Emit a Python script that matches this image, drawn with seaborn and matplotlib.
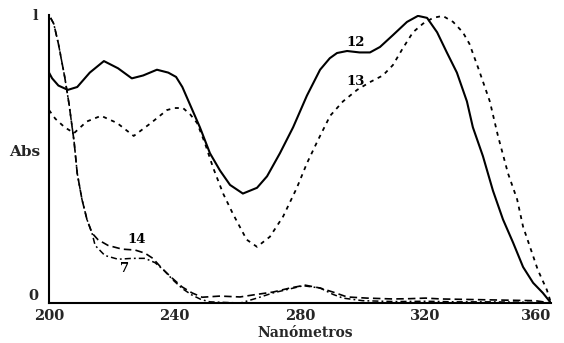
import matplotlib
matplotlib.use("Agg")
import matplotlib.pyplot as plt
import seaborn as sns
import pandas as pd
from matplotlib.ticker import MultipleLocator

# ---- data ----
x12 = [200, 201, 203, 206, 209, 213, 217.5, 222, 226.4, 230, 234.4, 238, 240.5, 242.5, 244.9,
       248.1, 251.3, 254.5, 257.7, 261.8, 266.3, 269.5, 273.6, 277.8, 282.2, 286.4, 289.5,
       291.8, 295, 299, 302.3, 305.5, 309.6, 314.1, 317.6, 320.5, 323.7, 326.8, 330, 333.2,
       335.1, 338.3, 341.5, 344.7, 347.9, 351.1, 354.3, 357.4, 360]
y12 = [0.80, 0.78, 0.755, 0.74, 0.75, 0.80, 0.84, 0.815, 0.78, 0.79, 0.81, 0.80, 0.785, 0.75, 0.69,
       0.61, 0.52, 0.46, 0.41, 0.38, 0.40, 0.44, 0.52, 0.61, 0.72, 0.81, 0.85,
       0.868, 0.875, 0.87, 0.87, 0.889, 0.93, 0.976, 0.997, 0.99, 0.94, 0.87, 0.80, 0.70,
       0.61, 0.51, 0.39, 0.29, 0.21, 0.125, 0.07, 0.035, 0.0]

x13 = [200, 202, 205, 208, 212, 216.6, 221.7, 227, 232.5, 237.6, 240, 242.7, 245, 247.2,
       249.7, 252.3, 255.5, 258.6, 263, 266.3, 270.4, 274.6, 279, 282.2, 285.7, 289.6, 293.7,
       298.2, 302.3, 306.4, 309.6, 312.8, 316, 319.2, 322.4, 325.5, 328.8, 331.9, 334, 337,
       340.5, 343.1, 346.3, 349.2, 351.1, 353.3, 355.8, 358.7, 360]
y13 = [0.67, 0.64, 0.61, 0.59, 0.63, 0.65, 0.625, 0.58, 0.625, 0.67, 0.677, 0.677, 0.655, 0.625,
       0.555, 0.47, 0.38, 0.31, 0.22, 0.195, 0.23, 0.30, 0.40, 0.485, 0.565, 0.65, 0.70,
       0.74, 0.767, 0.79, 0.826, 0.885, 0.94, 0.97, 0.99, 0.997, 0.976, 0.94, 0.90, 0.81,
       0.70, 0.58, 0.45, 0.36, 0.265, 0.195, 0.115, 0.045, 0.0]

x14 = [200.5, 201.5, 203, 205, 206.4, 208, 209, 210.5, 212.1, 213.7, 215.6, 218.8, 223.3,
       227.4, 230.6, 233.1, 236, 239.2, 242.4, 245.6, 248.8, 254.5, 260.9, 266.3, 271.4,
       276.8, 281.6, 286.4, 290.5, 295, 301.3, 309.6, 315, 320, 325, 335, 345, 355, 360]
y14 = [0.99, 0.97, 0.90, 0.785, 0.69, 0.56, 0.45, 0.36, 0.29, 0.243, 0.22, 0.20, 0.187,
       0.184, 0.173, 0.155, 0.12, 0.087, 0.056, 0.035, 0.02, 0.024, 0.021, 0.03, 0.038,
       0.052, 0.062, 0.052, 0.038, 0.021, 0.017, 0.014, 0.015, 0.017, 0.014, 0.012, 0.01, 0.008, 0.0]

x7 = [200.5, 201.5, 203, 205, 206.4, 208, 209, 210.5, 212.1, 213.7, 214.7, 217.8, 222,
      226.5, 230.6, 233.8, 236.5, 239.5, 242.5, 245.5, 248.5, 251.3, 256, 261, 266.3, 271.4,
      276.8, 281, 286.4, 290.5, 293.7, 300, 310, 320, 330, 340, 350, 360]
y7 = [0.99, 0.97, 0.90, 0.785, 0.69, 0.56, 0.45, 0.36, 0.29, 0.243, 0.20, 0.165, 0.152,
      0.155, 0.155, 0.14, 0.115, 0.08, 0.05, 0.028, 0.012, 0.004, 0.002, 0.0, 0.017, 0.035,
      0.049, 0.06, 0.052, 0.03, 0.017, 0.008, 0.005, 0.006, 0.004, 0.004, 0.003, 0.0]

xticks = [200, 240, 280, 320, 360]
yticks = [0, 1]
ytick_labels = ["0", "l"]
xlabel = "Nanómetros"
ylabel = "Abs"
curve_labels = {"12": (297.6, 0.906), "13": (297.6, 0.77), "14": (228, 0.22), "7": (224.2, 0.12)}

sns.set_style("white")
plt.rcParams['font.family'] = ['DejaVu Serif']
plt.rcParams['font.weight'] = 'bold'

fig = plt.figure(figsize=(5.64, 3.43), dpi=100)
ax = fig.add_axes([49/564, 1 - 303/343, 502/564, 288/343])

styles = [
    (x12, y12, "-", 1.5),
    (x13, y13, (0, (2.2, 2.6)), 1.3),
    (x14, y14, (0, (4.5, 2.5)), 1.2),
    (x7, y7, (0, (4, 2, 1.2, 2)), 1.1),
]
for xs, ys, ls, lw in styles:
    df = pd.DataFrame({"x": xs, "y": ys})
    sns.lineplot(data=df, x="x", y="y", ax=ax, color="black", linestyle=ls,
                 linewidth=lw, sort=False, estimator=None)

for t, (xx, yy) in curve_labels.items():
    ax.text(xx, yy, t, ha="center", va="center", fontsize=9.5, fontweight="bold", color="black")

ax.set_xlim(200, 360)
ax.set_ylim(0, 1)
ax.set_xticks(xticks)
ax.set_xticklabels([str(v) for v in xticks])
ax.set_yticks(yticks)
ax.set_yticklabels(ytick_labels)
ax.xaxis.set_minor_locator(MultipleLocator(10))
ax.tick_params(axis="x", which="major", direction="in", length=3, width=1, pad=4, labelsize=10.5)
ax.tick_params(axis="x", which="minor", direction="in", length=2, width=0.8)
ax.tick_params(axis="y", which="major", length=0, pad=8, labelsize=10.5)
for lab in ax.get_yticklabels():
    if lab.get_text() == "0":
        lab.set_va("bottom")
for lab in ax.get_xticklabels():
    if lab.get_text() == "360":
        lab.set_ha("right")
        lab.set_x(362)

for side in ["top", "right"]:
    ax.spines[side].set_visible(False)
for side in ["left", "bottom"]:
    ax.spines[side].set_color("black")
    ax.spines[side].set_linewidth(1.5)

ax.set_xlabel(xlabel, fontsize=10, fontweight="bold")
ax.xaxis.set_label_coords(0.51, -0.104)
ax.xaxis.label.set_va("center")
ax.set_ylabel(ylabel, rotation=0, fontsize=11, fontweight="bold")
ax.yaxis.set_label_coords(-0.049, 0.524)
ax.yaxis.label.set_va("center")
ax.yaxis.label.set_ha("center")

fig.savefig("out.png", dpi=100, facecolor="white")
